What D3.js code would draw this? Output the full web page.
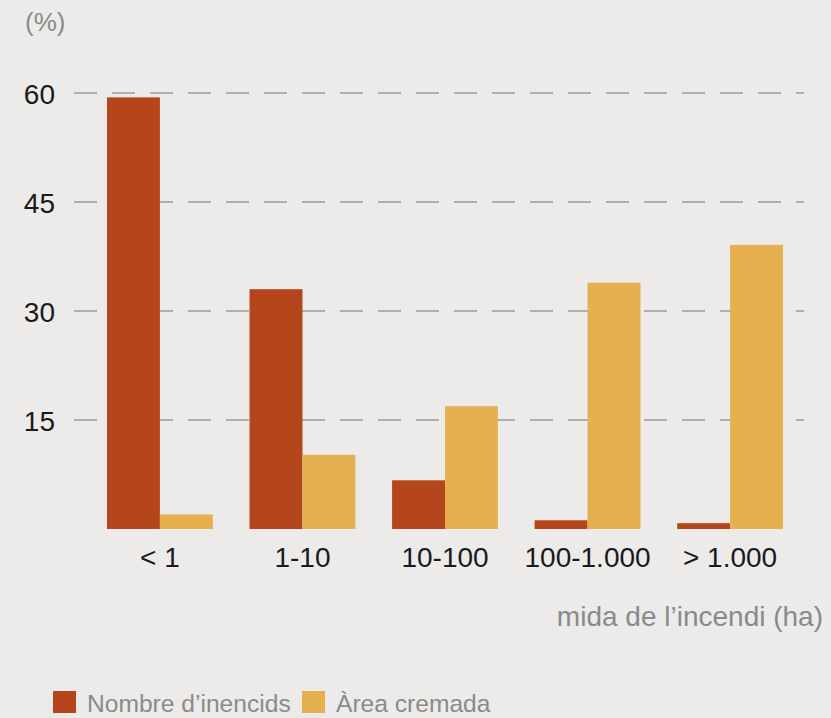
<!DOCTYPE html>
<html>
<head>
<meta charset="utf-8">
<script src="https://cdn.jsdelivr.net/npm/d3@7"></script>
<style>
  html, body { margin: 0; padding: 0; background: #ECEBE9; }
  svg { display: block; }
  text { font-family: "Liberation Sans", Arial, sans-serif; }
</style>
</head>
<body>
<svg id="chart" width="831" height="718"></svg>
<script>
const categories = ["< 1", "1-10", "10-100", "100-1.000", "> 1.000"];
const seriesNames = ["Nombre d\u2019inencids", "\u00C0rea cremada"];
const nombreIncendis = [59.4, 33.0, 6.7, 1.2, 0.8];
const areaCremada = [2.0, 10.2, 16.9, 33.9, 39.1];
const yTicks = [15, 30, 45, 60];
const colors = ["#B5451B", "#E5B04E"];

const svg = d3.select("#chart");
const W = 831, H = 718;
svg.append("rect").attr("width", W).attr("height", H).attr("fill", "#ECEBE9");

const y = d3.scaleLinear().domain([0, 60]).range([529, 93]);
const x0 = d3.scaleBand().domain(categories).range([107, 783]).paddingInner(0.2575).paddingOuter(0);
const x1 = d3.scaleBand().domain([0, 1]).range([0, x0.bandwidth()]).padding(0);

// gridlines
const grid = svg.append("g");
grid.selectAll("line").data(yTicks).join("line")
  .attr("x1", 74).attr("x2", 804)
  .attr("y1", d => y(d)).attr("y2", d => y(d))
  .attr("stroke", "#9a9a9a").attr("stroke-width", 1.6)
  .attr("stroke-dasharray", "23,15");

// y axis labels
const yAxis = d3.axisLeft(y).tickValues(yTicks).tickSize(0).tickPadding(0);
const yg = svg.append("g").attr("transform", "translate(55,0)").call(yAxis);
yg.select(".domain").remove();
yg.selectAll("text").attr("font-size", 28).attr("fill", "#1a1a1a")
  .attr("font-family", "Liberation Sans, Arial, sans-serif").attr("dy", "0.36em");

svg.append("text").attr("x", 25).attr("y", 31).attr("font-size", 26)
  .attr("fill", "#8a8a8a").text("(%)");

// bars
const data = categories.map((c, i) => ({ cat: c, vals: [nombreIncendis[i], areaCremada[i]] }));
const groups = svg.append("g").selectAll("g").data(data).join("g")
  .attr("transform", d => `translate(${x0(d.cat)},0)`);
groups.selectAll("rect").data(d => d.vals.map((v, k) => ({ v, k }))).join("rect")
  .attr("x", d => x1(d.k)).attr("width", x1.bandwidth())
  .attr("y", d => y(d.v)).attr("height", d => y(0) - y(d.v))
  .attr("fill", d => colors[d.k]);

// x axis labels
const xAxis = d3.axisBottom(x0).tickSize(0).tickPadding(0);
const xg = svg.append("g").attr("transform", "translate(0,567)").call(xAxis);
xg.select(".domain").remove();
xg.selectAll("text").attr("font-size", 28).attr("fill", "#1a1a1a")
  .attr("font-family", "Liberation Sans, Arial, sans-serif").attr("dy", "0");

svg.append("text").attr("x", 823).attr("y", 626).attr("text-anchor", "end")
  .attr("font-size", 28).attr("fill", "#8a8a8a").text("mida de l\u2019incendi (ha)");

// legend
const legendX = [53, 302];
const lg = svg.append("g").selectAll("g").data(seriesNames).join("g")
  .attr("transform", (d, i) => `translate(${legendX[i]},691)`);
lg.append("rect").attr("width", 23).attr("height", 22).attr("fill", (d, i) => colors[i]);
lg.append("text").attr("x", 34).attr("y", 21).attr("font-size", 24.6)
  .attr("fill", "#8a8a8a").text(d => d);
</script>
</body>
</html>
